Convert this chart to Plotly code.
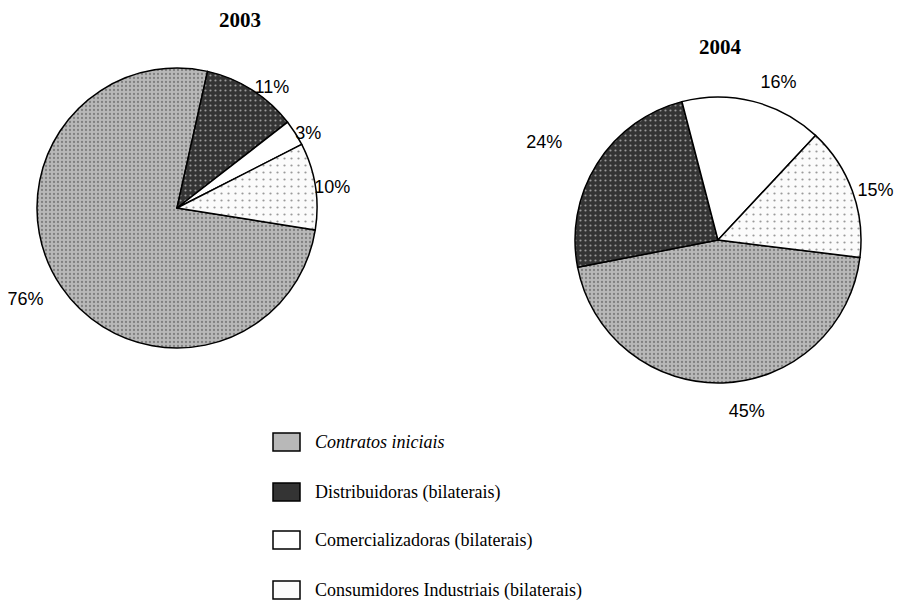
import plotly.graph_objects as go

# ---- data ----
categories = ["Contratos iniciais", "Distribuidoras (bilaterais)",
              "Comercializadoras (bilaterais)", "Consumidores Industriais (bilaterais)"]
years = ["2003", "2004"]
values_2003 = [76, 11, 3, 10]
values_2004 = [45, 24, 16, 15]

# ---- styling ----
bg_colors = ["#b8b8b8", "#343434", "#ffffff", "#fbfbfb"]
fg_colors = ["#808080", "#9a9a9a", "#ffffff", "#9a9a9a"]
pattern_shapes = [".", ".", "", "."]
pattern_sizes = [4, 5, 8, 7]
pattern_solidity = [0.25, 0.15, 0.1, 0.08]

# page body has an 8px margin, so the figure is drawn 8px in from the window edge
W, H = 902, 608
OFF = 8

def dom(cx, cy, half):
    cx, cy = cx - OFF, cy - OFF
    return dict(x=[(cx - half) / W, (cx + half) / W],
                y=[1 - (cy + half) / H, 1 - (cy - half) / H])

# (values, centre x, centre y, radius, rotation, label-ring radius, label pull per slice)
pies = [
    (values_2003, 177, 208, 140, 99, 134, [0.16, 0.01, 0.0, 0.0]),
    (values_2004, 718, 240, 143, 97, 143, [0.13, 0.245, 0.07, 0.0]),
]

fig = go.Figure()
for vals, cx, cy, r, rot, rl, pulls in pies:
    # visible pie
    fig.add_trace(go.Pie(
        labels=categories, values=vals, sort=False, direction="clockwise",
        rotation=rot, domain=dom(cx, cy, r), textinfo="none",
        marker=dict(colors=bg_colors, line=dict(color="black", width=1.5),
                    pattern=dict(shape=pattern_shapes, bgcolor=bg_colors, fgcolor=fg_colors,
                                 size=pattern_sizes, solidity=pattern_solidity)),
        showlegend=False, hoverinfo="label+percent", automargin=False,
    ))
    # transparent copy carrying the percentage labels a little further out
    fig.add_trace(go.Pie(
        labels=categories, values=vals, sort=False, direction="clockwise",
        rotation=rot, domain=dom(cx, cy, rl * (1 + max(pulls))), pull=pulls,
        texttemplate="%{value}%", textposition="outside",
        textfont=dict(family="Liberation Sans, Arial", size=18, color="black"),
        marker=dict(colors=["rgba(0,0,0,0)"] * 4, line=dict(width=0)),
        showlegend=False, hoverinfo="skip", automargin=False,
    ))

annotations = []
for t, (x, y) in zip(years, [(240, 20), (720, 47)]):
    annotations.append(dict(text=f"<b>{t}</b>", x=(x - OFF) / W, y=1 - (y - OFF) / H,
                            xref="paper", yref="paper", xanchor="center", yanchor="middle",
                            showarrow=False,
                            font=dict(family="Liberation Serif, Times New Roman",
                                      size=21, color="black")))

# legend
shapes = []
row_y = [442, 492, 540, 590]
for i, (lab, yy) in enumerate(zip(categories, row_y)):
    yy -= OFF
    shapes.append(dict(type="rect", xref="paper", yref="paper",
                       x0=(273 - OFF) / W, x1=(300 - OFF) / W,
                       y0=1 - (yy + 9) / H, y1=1 - (yy - 9) / H,
                       fillcolor=bg_colors[i], line=dict(color="black", width=1.5)))
    txt = f"<i>{lab}</i>" if i == 0 else lab
    annotations.append(dict(text=txt, x=(313 - OFF) / W, y=1 - yy / H,
                            xref="paper", yref="paper",
                            xanchor="left", yanchor="middle", showarrow=False,
                            font=dict(family="Liberation Serif, Times New Roman", size=18,
                                      color="black")))

fig.update_layout(width=W, height=H,
                  margin=dict(l=0, r=0, t=0, b=0, autoexpand=False),
                  paper_bgcolor="white", plot_bgcolor="white",
                  annotations=annotations, shapes=shapes)
fig.write_html("out.html")
